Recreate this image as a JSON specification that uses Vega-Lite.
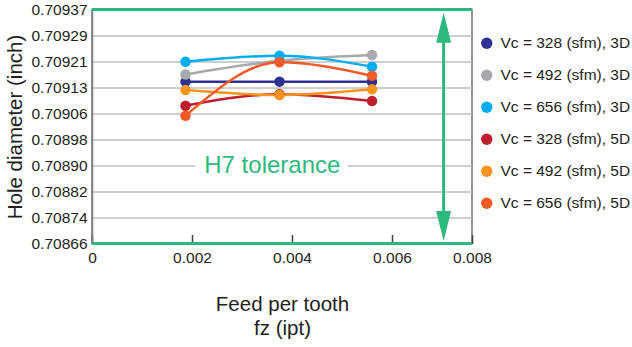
{
  "$schema": "https://vega.github.io/schema/vega-lite/v6.json",
  "width": 380,
  "height": 234,
  "autosize": {"type": "none"},
  "padding": {"left": 92, "top": 9.5, "right": 160, "bottom": 103.5},
  "config": {
    "font": "Liberation Sans",
    "view": {"stroke": "#6d6e71", "strokeWidth": 1.5},
    "axis": {"labelColor": "#231f20", "titleColor": "#231f20", "labelFontSize": 15.5, "titleFontSize": 20.5, "titleFontWeight": "normal"},
    "legend": {"labelFontSize": 15.5, "labelColor": "#231f20"}
  },
  "datasets": {
    "pts": [
      {"series": "Vc = 328 (sfm), 3D", "fz": 0.00187, "d": 0.7091516},
      {"series": "Vc = 328 (sfm), 3D", "fz": 0.00375, "d": 0.7091516},
      {"series": "Vc = 328 (sfm), 3D", "fz": 0.0056, "d": 0.7091516},
      {"series": "Vc = 492 (sfm), 3D", "fz": 0.00187, "d": 0.7091732},
      {"series": "Vc = 492 (sfm), 3D", "fz": 0.00375, "d": 0.7092149},
      {"series": "Vc = 492 (sfm), 3D", "fz": 0.0056, "d": 0.7092323},
      {"series": "Vc = 656 (sfm), 3D", "fz": 0.00187, "d": 0.7092118},
      {"series": "Vc = 656 (sfm), 3D", "fz": 0.00375, "d": 0.7092303},
      {"series": "Vc = 656 (sfm), 3D", "fz": 0.0056, "d": 0.7091968},
      {"series": "Vc = 328 (sfm), 5D", "fz": 0.00187, "d": 0.7090787},
      {"series": "Vc = 328 (sfm), 5D", "fz": 0.00375, "d": 0.7091134},
      {"series": "Vc = 328 (sfm), 5D", "fz": 0.0056, "d": 0.7090929},
      {"series": "Vc = 492 (sfm), 5D", "fz": 0.00187, "d": 0.709126},
      {"series": "Vc = 492 (sfm), 5D", "fz": 0.00375, "d": 0.709111},
      {"series": "Vc = 492 (sfm), 5D", "fz": 0.0056, "d": 0.7091283},
      {"series": "Vc = 656 (sfm), 5D", "fz": 0.00187, "d": 0.7090484},
      {"series": "Vc = 656 (sfm), 5D", "fz": 0.00375, "d": 0.7092102},
      {"series": "Vc = 656 (sfm), 5D", "fz": 0.0056, "d": 0.7091693}
    ],
    "bounds": [{"y": 0.7093701}, {"y": 0.7086614}],
    "arrow": [{"x": 0.007032, "y1": 0.7093149, "y2": 0.7087146}],
    "label": [{"x": 0.003606, "y": 0.7088976, "x1": 0.00207, "x2": 0.00511, "y1": 0.70889, "y2": 0.708906, "text": "H7 tolerance"}]
  },
  "encoding": {
    "x": {
      "type": "quantitative",
      "scale": {"domain": [0, 0.0076], "nice": false, "zero": false},
      "axis": {
        "title": ["Feed per tooth", "fz (ipt)"],
        "titleLineHeight": 24,
        "titlePadding": 28,
        "values": [0, 0.002, 0.004, 0.006, 0.0076],
        "labelExpr": "datum.value == 0 ? '0' : (datum.value > 0.007 ? '0.008' : format(datum.value, '.3f'))",
        "domain": false,
        "grid": false,
        "tickSize": -9,
        "tickColor": "#414042",
        "tickWidth": 1.5,
        "labelPadding": 16,
        "labelFlush": false
      }
    },
    "y": {
      "type": "quantitative",
      "scale": {"domain": [0.7086614, 0.7093701], "nice": false, "zero": false},
      "axis": {
        "title": "Hole diameter (inch)",
        "values": [0.7086614, 0.7087402, 0.7088189, 0.7088976, 0.7089764, 0.7090551, 0.7091339, 0.7092126, 0.7092913, 0.7093701],
        "format": ".5f",
        "domainColor": "#808285",
        "domainWidth": 1.5,
        "gridColor": "#bcbec0",
        "gridWidth": 1.5,
        "tickSize": 0,
        "labelPadding": 5,
        "titlePadding": 5,
        "labelFlush": false
      }
    }
  },
  "layer": [
    {
      "data": {"name": "label"},
      "mark": {"type": "rect", "fill": "white"},
      "encoding": {"x": {"field": "x1", "type": "quantitative"}, "x2": {"field": "x2"}, "y": {"field": "y1", "type": "quantitative"}, "y2": {"field": "y2"}}
    },
    {
      "data": {"name": "label"},
      "mark": {"type": "text", "fontSize": 24, "color": "#2db87d", "baseline": "middle", "align": "center"},
      "encoding": {"x": {"field": "x", "type": "quantitative"}, "y": {"field": "y", "type": "quantitative"}, "text": {"field": "text"}}
    },
    {
      "data": {"name": "bounds"},
      "mark": {"type": "rule", "color": "#2db87d", "strokeWidth": 3},
      "encoding": {"y": {"field": "y", "type": "quantitative"}}
    },
    {
      "data": {"name": "arrow"},
      "mark": {"type": "rule", "color": "#2db87d", "strokeWidth": 3},
      "encoding": {"x": {"field": "x", "type": "quantitative"}, "y": {"field": "y1", "type": "quantitative"}, "y2": {"field": "y2"}}
    },
    {
      "data": {"name": "arrow"},
      "mark": {"type": "point", "shape": "M0,-1L0.5,1L-0.5,1Z", "filled": true, "color": "#2db87d", "size": 900, "opacity": 1},
      "encoding": {"x": {"field": "x", "type": "quantitative"}, "y": {"field": "y1", "type": "quantitative"}}
    },
    {
      "data": {"name": "arrow"},
      "mark": {"type": "point", "shape": "M0,1L0.5,-1L-0.5,-1Z", "filled": true, "color": "#2db87d", "size": 900, "opacity": 1},
      "encoding": {"x": {"field": "x", "type": "quantitative"}, "y": {"field": "y2", "type": "quantitative"}}
    },
    {
      "data": {"name": "pts"},
      "mark": {"type": "line", "interpolate": "monotone", "strokeWidth": 2.5},
      "encoding": {
        "x": {"field": "fz", "type": "quantitative"},
        "y": {"field": "d", "type": "quantitative"},
        "color": {"field": "series", "type": "nominal",
          "legend": {"title": null, "orient": "none", "legendX": 387, "legendY": 26, "symbolType": "circle", "symbolSize": 130, "rowPadding": 15, "labelOffset": 6, "symbolStrokeWidth": 0, "symbolOpacity": 1},
          "scale": {"domain": ["Vc = 328 (sfm), 3D", "Vc = 492 (sfm), 3D", "Vc = 656 (sfm), 3D", "Vc = 328 (sfm), 5D", "Vc = 492 (sfm), 5D", "Vc = 656 (sfm), 5D"],
                    "range": ["#2e3192", "#a7a9ac", "#00aeef", "#be1e2d", "#f7941d", "#f15a29"]}}
      }
    },
    {
      "data": {"name": "pts"},
      "mark": {"type": "point", "filled": true, "size": 110, "opacity": 1},
      "encoding": {
        "x": {"field": "fz", "type": "quantitative"},
        "y": {"field": "d", "type": "quantitative"},
        "color": {"field": "series", "type": "nominal",
          "legend": {"title": null, "orient": "none", "legendX": 387, "legendY": 26, "symbolType": "circle", "symbolSize": 130, "rowPadding": 15, "labelOffset": 6, "symbolStrokeWidth": 0, "symbolOpacity": 1}}
      }
    }
  ]
}
